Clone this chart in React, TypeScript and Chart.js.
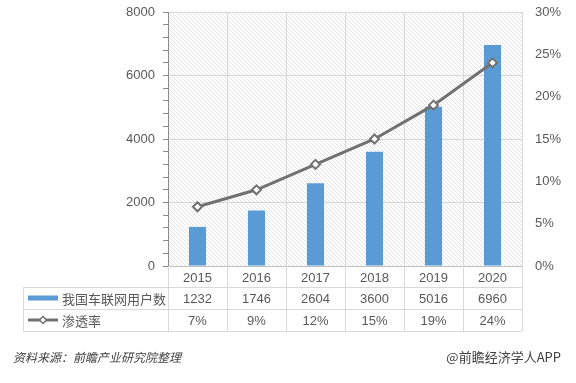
import React, { useEffect, useRef } from 'react';
import { Chart, registerables } from 'chart.js';

Chart.register(...registerables);

const years = ['2015', '2016', '2017', '2018', '2019', '2020'];
const users = [1232, 1746, 2604, 3600, 5016, 6960];
const rates = [7, 9, 12, 15, 19, 24];
const userLabels = users.map((v) => String(v));
const rateLabels = rates.map((v) => v + '%');
const seriesNames = ['我国车联网用户数', '渗透率'];
const sourceText = '资料来源：前瞻产业研究院整理';
const brandText = '@前瞻经济学人APP';

const NUM_FONT = "'Liberation Sans', 'Noto Sans CJK SC', sans-serif";
const CJK_FONT = "'Noto Sans CJK SC', 'Noto Sans', sans-serif";
const TEXT = '#595959';
const GRID = '#d9d9d9';
const AXIS = '#8c8c8c';
const BAR = '#5b9bd5';
const LINE = '#717171';

const W = 576;
const H = 383;

const decorPlugin = {
  id: 'decor',
  beforeDraw(chart: any) {
    const { ctx, chartArea } = chart;
    ctx.save();
    ctx.fillStyle = '#ffffff';
    ctx.fillRect(0, 0, chart.width, chart.height);
    const tile = document.createElement('canvas');
    tile.width = 4;
    tile.height = 4;
    const t = tile.getContext('2d')!;
    t.strokeStyle = '#e3e3e3';
    t.lineWidth = 1;
    t.beginPath();
    t.moveTo(-1, -1);
    t.lineTo(5, 5);
    t.moveTo(-1, 3);
    t.lineTo(1, 5);
    t.moveTo(3, -1);
    t.lineTo(5, 1);
    t.stroke();
    const pat = ctx.createPattern(tile, 'repeat');
    if (pat) {
      ctx.fillStyle = pat;
      ctx.fillRect(chartArea.left, chartArea.top, chartArea.right - chartArea.left, chartArea.bottom - chartArea.top);
    }
    ctx.restore();
  },
  afterDraw(chart: any) {
    const { ctx, chartArea, scales } = chart;
    const x = scales.x;
    const top = chartArea.bottom;
    const rowH = 22;
    const r1 = top + 21;
    const r2 = r1 + rowH;
    const r3 = r2 + rowH;
    const tableLeft = 23;
    const n = years.length;
    const colW = (chartArea.right - chartArea.left) / n;

    ctx.save();
    ctx.strokeStyle = GRID;
    ctx.lineWidth = 1;
    ctx.beginPath();
    [r1, r2, r3].forEach((yy) => {
      ctx.moveTo(tableLeft, Math.round(yy) + 0.5);
      ctx.lineTo(chartArea.right, Math.round(yy) + 0.5);
    });
    ctx.moveTo(tableLeft + 0.5, r1);
    ctx.lineTo(tableLeft + 0.5, r3);
    for (let i = 0; i <= n; i++) {
      const xx = Math.round(chartArea.left + i * colW) + 0.5;
      ctx.moveTo(xx, top);
      ctx.lineTo(xx, r3);
    }
    ctx.stroke();

    // values
    ctx.fillStyle = TEXT;
    ctx.font = `13px ${NUM_FONT}`;
    ctx.textAlign = 'center';
    ctx.textBaseline = 'middle';
    for (let i = 0; i < n; i++) {
      const cx = x.getPixelForValue(i);
      ctx.fillText(userLabels[i], cx, (r1 + r2) / 2 + 1);
      ctx.fillText(rateLabels[i], cx, (r2 + r3) / 2 + 1);
    }

    // legend keys
    const ky1 = (r1 + r2) / 2;
    const ky2 = (r2 + r3) / 2;
    ctx.fillStyle = BAR;
    ctx.fillRect(28, ky1 - 2.5, 30, 5);
    ctx.strokeStyle = LINE;
    ctx.lineWidth = 3;
    ctx.beginPath();
    ctx.moveTo(28, ky2);
    ctx.lineTo(58, ky2);
    ctx.stroke();
    ctx.fillStyle = '#ffffff';
    ctx.lineWidth = 1.5;
    ctx.beginPath();
    ctx.moveTo(43, ky2 - 3.5);
    ctx.lineTo(46.5, ky2);
    ctx.lineTo(43, ky2 + 3.5);
    ctx.lineTo(39.5, ky2);
    ctx.closePath();
    ctx.fill();
    ctx.stroke();

    ctx.fillStyle = TEXT;
    ctx.font = `13px ${CJK_FONT}`;
    ctx.textAlign = 'left';
    ctx.fillText(seriesNames[0], 62, ky1 + 1);
    ctx.fillText(seriesNames[1], 62, ky2 + 1);

    // footer
    ctx.fillStyle = '#404040';
    ctx.font = `italic 12px ${CJK_FONT}`;
    ctx.textAlign = 'left';
    ctx.fillText(sourceText, 13, 357);
    ctx.font = `13px ${CJK_FONT}`;
    ctx.textAlign = 'right';
    ctx.fillText(brandText, 561, 357);
    ctx.restore();
  },
};

const fixVertical = (width: number) => (s: any) => {
  s.width = width;
  s.paddingTop = 0;
  s.paddingBottom = 0;
};

export default function App() {
  const ref = useRef<HTMLCanvasElement | null>(null);

  useEffect(() => {
    if (!ref.current) return;
    const chart = new Chart(ref.current, {
      type: 'bar',
      data: {
        labels: years,
        datasets: [
          {
            type: 'line',
            label: seriesNames[1],
            data: rates,
            yAxisID: 'y1',
            borderColor: LINE,
            borderWidth: 3,
            tension: 0,
            pointStyle: 'rectRot',
            pointRadius: 4.5,
            pointBackgroundColor: '#ffffff',
            pointBorderColor: LINE,
            pointBorderWidth: 2,
            order: 0,
          } as any,
          {
            type: 'bar',
            label: seriesNames[0],
            data: users,
            yAxisID: 'y',
            backgroundColor: BAR,
            categoryPercentage: 1,
            barPercentage: 0.29,
            order: 1,
          },
        ],
      },
      options: {
        responsive: false,
        animation: false,
        layout: { padding: { top: 12, left: 0, right: 0, bottom: 0 } },
        plugins: {
          legend: { display: false },
          tooltip: { enabled: false },
          title: { display: false },
        },
        scales: {
          x: {
            type: 'category',
            offset: true,
            grid: { offset: true, color: GRID, drawTicks: false },
            border: { display: true, color: '#bfbfbf' },
            ticks: {
              color: TEXT,
              font: { size: 13, family: NUM_FONT },
              padding: 5,
              maxRotation: 0,
              autoSkip: false,
            },
            afterFit: (s: any) => {
              s.height = 117;
              s.paddingLeft = 0;
              s.paddingRight = 0;
            },
          },
          y: {
            position: 'left',
            min: 0,
            max: 8000,
            ticks: {
              stepSize: 400,
              autoSkip: false,
              color: TEXT,
              font: { size: 13, family: NUM_FONT },
              padding: 8,
              callback: (v: any) => (Number(v) % 2000 === 0 ? String(v) : ''),
            },
            grid: {
              color: (c: any) => (c.tick && c.tick.value % 2000 === 0 ? GRID : 'rgba(0,0,0,0)'),
              tickColor: AXIS,
              tickLength: 5,
            },
            border: { display: true, color: AXIS },
            afterFit: fixVertical(168),
          },
          y1: {
            position: 'right',
            min: 0,
            max: 30,
            ticks: {
              stepSize: 5,
              color: TEXT,
              font: { size: 13, family: NUM_FONT },
              padding: 13,
              callback: (v: any) => v + '%',
            },
            grid: { drawOnChartArea: false, drawTicks: false },
            border: { display: false },
            afterFit: fixVertical(54),
          },
        },
      } as any,
      plugins: [decorPlugin],
    });
    return () => chart.destroy();
  }, []);

  return (
    <div style={{ position: 'fixed', left: 0, top: 0, width: W, height: H, background: '#fff' }}>
      <canvas ref={ref} width={W} height={H} style={{ width: W, height: H, display: 'block' }} />
    </div>
  );
}
